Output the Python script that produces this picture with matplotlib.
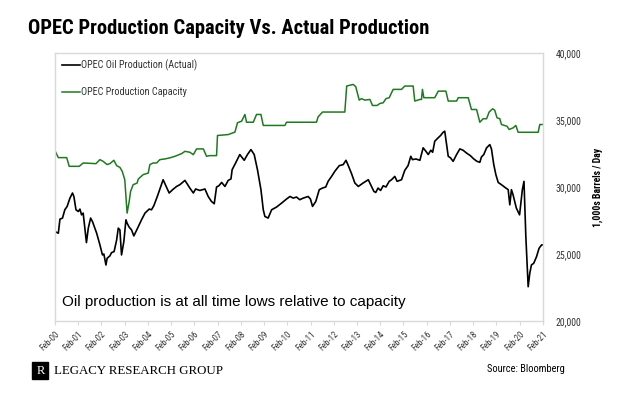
"""
OPEC Production Capacity Vs. Actual Production
Line chart recreated from a Bloomberg / Legacy Research chart
"""

import matplotlib.pyplot as plt
from matplotlib import font_manager
from matplotlib.patches import Rectangle

# Data (decimal years, 1,000s barrels / day)
CAP_YEARS = [2000.09, 2000.23, 2000.59, 2000.70, 2001.13, 2001.30, 2001.85, 2002.02,
             2002.16, 2002.33, 2002.45, 2002.62, 2002.74, 2002.88, 2002.98, 2003.09,
             2003.19, 2003.28, 2003.34, 2003.45, 2003.62, 2003.67, 2003.88, 2004.10,
             2004.17, 2004.31, 2004.46, 2004.60, 2004.81, 2005.03, 2005.25, 2005.54,
             2005.68, 2005.89, 2006.04, 2006.18, 2006.47, 2006.61, 2006.75, 2007.04,
             2007.08, 2007.54, 2007.83, 2007.94, 2008.12, 2008.26, 2008.33, 2008.62,
             2008.76, 2008.95, 2009.05, 2009.98, 2010.05, 2011.34, 2011.41, 2011.60,
             2012.56, 2012.64, 2012.92, 2013.03, 2013.18, 2013.28, 2013.42, 2013.64,
             2013.75, 2013.95, 2014.07, 2014.21, 2014.33, 2014.47, 2014.64, 2015.00,
             2015.14, 2015.50, 2015.57, 2015.79, 2015.86, 2015.90, 2015.96, 2016.43,
             2016.58, 2016.91, 2017.01, 2017.37, 2017.44, 2017.87, 2018.01, 2018.23,
             2018.37, 2018.51, 2018.66, 2018.77, 2018.92, 2019.01, 2019.11, 2019.23,
             2019.30, 2019.54, 2019.63, 2019.80, 2019.92, 2020.02, 2020.88, 2020.95,
             2021.08]
CAPACITY = [32700, 32200, 32200, 31550, 31550, 31800, 31750, 32050,
            31920, 31680, 31750, 32000, 31600, 31470, 31180, 30550,
            28060, 28930, 29680, 30180, 30300, 30600, 30930, 31050,
            31680, 31800, 31800, 32050, 32100, 32180, 32300, 32500,
            32670, 32600, 32420, 32850, 32850, 32300, 32350, 32350,
            33850, 33920, 34100, 34800, 34920, 35420, 34840, 34840,
            35420, 35420, 34600, 34600, 34840, 34840, 35240, 35600,
            35600, 37540, 37660, 37490, 36490, 36600, 36490, 36540,
            36090, 36090, 36240, 36290, 36600, 36670, 37290, 37290,
            37540, 37540, 36420, 36540, 36540, 37290, 36670, 36670,
            37160, 37160, 36420, 36420, 36670, 36670, 35790, 35790,
            34840, 35100, 35100, 35600, 35840, 35740, 35170, 35100,
            34670, 34540, 34300, 34420, 34600, 34090, 34090, 34670,
            34670]

ACT_YEARS = [2000.09, 2000.23, 2000.30, 2000.41, 2000.51, 2000.61, 2000.73, 2000.84,
             2000.90, 2000.99, 2001.09, 2001.16, 2001.23, 2001.30, 2001.44, 2001.52,
             2001.62, 2001.70, 2001.88, 2002.02, 2002.13, 2002.19, 2002.28, 2002.33,
             2002.45, 2002.52, 2002.63, 2002.74, 2002.81, 2002.88, 2002.95, 2003.05,
             2003.14, 2003.19, 2003.28, 2003.38, 2003.48, 2003.62, 2003.81, 2003.96,
             2004.14, 2004.24, 2004.34, 2004.49, 2004.60, 2004.74, 2004.86, 2005.00,
             2005.15, 2005.32, 2005.46, 2005.68, 2005.89, 2006.04, 2006.14, 2006.32,
             2006.54, 2006.68, 2006.82, 2006.94, 2007.04, 2007.14, 2007.26, 2007.40,
             2007.54, 2007.66, 2007.71, 2007.86, 2008.04, 2008.23, 2008.37, 2008.52,
             2008.66, 2008.80, 2008.95, 2009.05, 2009.12, 2009.26, 2009.41, 2009.62,
             2009.84, 2010.05, 2010.20, 2010.34, 2010.48, 2010.62, 2010.77, 2010.98,
             2011.08, 2011.17, 2011.31, 2011.46, 2011.60, 2011.74, 2011.84, 2011.99,
             2012.13, 2012.32, 2012.49, 2012.61, 2012.71, 2012.85, 2012.99, 2013.14,
             2013.35, 2013.57, 2013.67, 2013.81, 2013.89, 2013.99, 2014.10, 2014.21,
             2014.33, 2014.47, 2014.57, 2014.71, 2014.81, 2015.00, 2015.14, 2015.28,
             2015.40, 2015.47, 2015.62, 2015.79, 2015.93, 2016.05, 2016.15, 2016.26,
             2016.34, 2016.43, 2016.53, 2016.68, 2016.79, 2016.86, 2016.94, 2017.01,
             2017.11, 2017.22, 2017.37, 2017.51, 2017.65, 2017.79, 2017.96, 2018.11,
             2018.25, 2018.37, 2018.44, 2018.54, 2018.66, 2018.80, 2018.87, 2018.97,
             2019.06, 2019.16, 2019.30, 2019.49, 2019.59, 2019.66, 2019.73, 2019.80,
             2019.94, 2020.08, 2020.20, 2020.27, 2020.35, 2020.45, 2020.52, 2020.59,
             2020.69, 2020.81, 2020.92, 2021.03, 2021.08]
ACTUAL = [26680, 26560, 27610, 27690, 28310, 28560, 29180, 29560,
          29300, 28310, 28180, 28360, 27930, 28060, 25860, 26940,
          27690, 27430, 26560, 25690, 24940, 25010, 24190, 24690,
          24870, 25110, 25190, 26060, 26940, 26810, 24940, 25940,
          27560, 27310, 27010, 26810, 26360, 26860, 27560, 28060,
          28360, 28310, 28610, 29300, 29860, 30550, 30100, 29560,
          29810, 30050, 30180, 30500, 29930, 29560, 29860, 29750,
          29860, 29300, 28930, 28760, 30010, 30100, 30350, 30050,
          30500, 30610, 31300, 31800, 32430, 32000, 32430, 32800,
          32430, 31300, 29810, 28310, 27810, 27690, 28310, 28510,
          28810, 29110, 29300, 29180, 29260, 29060, 29180, 29300,
          29110, 28560, 28930, 29810, 29930, 30010, 30430, 30800,
          31180, 31600, 31680, 32000, 31600, 31000, 30310, 30050,
          30310, 30550, 30180, 29680, 29600, 29930, 29750, 30100,
          30010, 30430, 30550, 30800, 30430, 30550, 31250, 31600,
          32300, 32050, 32100, 32000, 32930, 32670, 32430, 32750,
          32600, 33420, 33600, 33850, 34090, 34170, 33170, 32300,
          32180, 31920, 32430, 32850, 32750, 32550, 32350, 32100,
          31920, 31850, 32250, 32430, 32930, 33170, 32850, 31680,
          30930, 30350, 30180, 29930, 29810, 28680, 29810, 29430,
          28440, 27930, 29810, 30430, 26310, 22570, 23570, 24190,
          24320, 24810, 25440, 25690, 25690]

TICK_YEARS = [2000 + 1 / 12 + k for k in range(22)]
TICK_LABELS = [f"Feb-{y % 100:02d}" for y in range(2000, 2022)]
Y_TICKS = [20000, 25000, 30000, 35000, 40000]
Y_LABELS = ["20,000", "25,000", "30,000", "35,000", "40,000"]

# Style
GREEN = '#1f7a1f'
FRAME = '#d9d9d9'
TEXT = '#333333'
SANS = ['Liberation Sans', 'DejaVu Sans']
SERIF = ['Liberation Serif', 'DejaVu Serif']


def _weight(w):
    if isinstance(w, str):
        return font_manager.weight_dict.get(w, 400)
    return w


def narrow_family():
    """Condensed sans face (chart uses Arial Narrow); prefer one with a bold cut"""
    faces = {}
    for f in font_manager.fontManager.ttflist:
        if 'Narrow' in f.name or 'Condensed' in f.name:
            faces.setdefault(f.name, set()).add(_weight(f.weight))
    prefer = ['Liberation Sans Narrow', 'Arial Narrow', 'Roboto Condensed',
              'Noto Sans Condensed', 'Open Sans Condensed']
    names = sorted(faces, key=lambda n: (prefer.index(n) if n in prefer else 99, n))
    for n in names:
        if max(faces[n]) >= 700 and min(faces[n]) <= 400:
            return [n] + SANS, True
    for n in names:
        if max(faces[n]) >= 700:
            return [n] + SANS, True
    if names:
        return [names[0]] + SANS, False
    return SANS, False


def make_chart():
    font, has_bold = narrow_family()
    plt.rcParams['font.family'] = font
    bold_font = font if has_bold else SANS
    title_size = 14.8 if has_bold else 13

    fig = plt.figure(figsize=(6.24, 3.96), dpi=100)
    fig.patch.set_facecolor('white')
    ax = fig.add_axes([0.088, 0.189, 0.782, 0.677])

    ax.plot(ACT_YEARS, ACTUAL, color='black', linewidth=1.2,
            label='OPEC Oil Production (Actual)')
    ax.plot(CAP_YEARS, CAPACITY, color=GREEN, linewidth=1.1,
            label='OPEC Production Capacity')

    ax.set_xlim(TICK_YEARS[0], TICK_YEARS[-1])
    ax.set_ylim(20000, 40000)

    # right-hand value axis
    ax.yaxis.tick_right()
    ax.yaxis.set_label_position('right')
    ax.set_yticks(Y_TICKS)
    ax.set_yticklabels(Y_LABELS, fontsize=7, color=TEXT)
    ax.tick_params(axis='y', length=0, pad=9)
    ax.set_ylabel('1,000s Barrels / Day', fontsize=7, fontweight='bold',
                  color='black', labelpad=8, family=bold_font)

    ax.set_xticks(TICK_YEARS)
    ax.set_xticklabels(TICK_LABELS, rotation=45, ha='right',
                       rotation_mode='anchor', fontsize=6.3, color=TEXT)
    ax.tick_params(axis='x', length=3, color=FRAME, pad=3)

    for side in ['top', 'bottom', 'left', 'right']:
        ax.spines[side].set_color(FRAME)
        ax.spines[side].set_linewidth(1.0)

    leg = ax.legend(loc='upper left', frameon=False, fontsize=7.3,
                    handlelength=1.8, handletextpad=0.1, labelspacing=1.6,
                    borderaxespad=0.25, bbox_to_anchor=(0.0, 1.0))
    for t in leg.get_texts():
        t.set_color(TEXT)

    ax.text(0.014, 0.055, 'Oil production is at all time lows relative to capacity',
            transform=ax.transAxes, fontsize=11, color='black', family=SANS)

    # title and footer
    fig.text(0.045, 0.927, 'OPEC Production Capacity Vs. Actual Production',
             fontsize=title_size, fontweight='bold', color='black', va='center',
             family=bold_font)
    fig.text(0.905, 0.068, 'Source: Bloomberg', fontsize=7.5, color='black',
             ha='right', va='center')
    fig.patches.append(Rectangle((0.052, 0.042), 0.0256, 0.044, color='black',
                                 transform=fig.transFigure, figure=fig))
    fig.text(0.065, 0.064, 'R', fontsize=9, color='white', ha='center',
             va='center', family=SERIF)
    fig.text(0.0865, 0.063, 'LEGACY RESEARCH GROUP', fontsize=9.3,
             color='black', va='center', family=SERIF)

    fig.savefig('out.png', dpi=100, facecolor='white')


if __name__ == "__main__":
    make_chart()
